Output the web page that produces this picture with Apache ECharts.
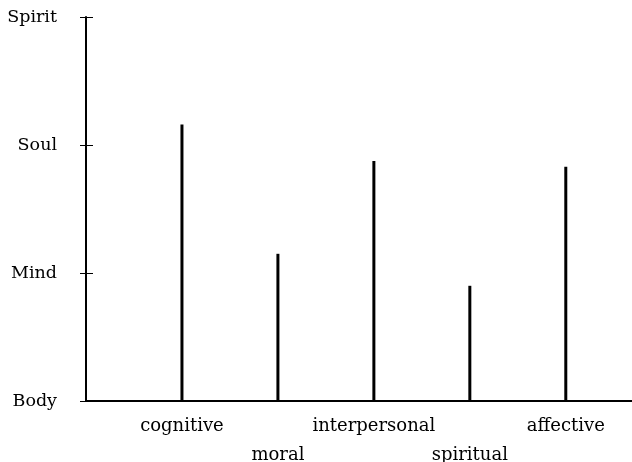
<!DOCTYPE html>
<html>
<head>
<meta charset="utf-8">
<script src="https://cdn.jsdelivr.net/npm/echarts@6/dist/echarts.min.js"></script>
<style>
  html, body { margin: 0; padding: 0; background: #fff; }
  #chart { width: 632px; height: 462px; }
</style>
</head>
<body>
<div id="chart"></div>
<script>
  // domains along the x axis, in order
  const categories = ['cognitive', 'moral', 'interpersonal', 'spiritual', 'affective']
  // level reached by each domain (0 = Body ... 3 = Spirit)
  const levels = [2.16, 1.15, 1.875, 0.9, 1.83]
  // y tick labels
  const levelLabels = ['Body', 'Mind', 'Soul', 'Spirit']

  const font = 'DejaVu Serif'
  const chart = echarts.init(document.getElementById('chart'))

  chart.setOption({
    animation: false,
    grid: {
      left: 86,
      right: 0,
      top: 17,
      bottom: 61,
      outerBoundsMode: 'none'
    },
    xAxis: {
      type: 'value',
      min: 0,
      max: 5.69,
      interval: 1,
      splitLine: {show: false},
      axisTick: {show: false},
      axisLine: {
        lineStyle: {color: '#000', width: 2}
      },
      axisLabel: {
        margin: 16,
        showMinLabel: false,
        showMaxLabel: false,
        formatter: function (v) {
          const i = Math.round(v) - 1
          if (i < 0 || i >= categories.length) return ''
          return i % 2 === 0 ? '{up|' + categories[i] + '}' : '{down|' + categories[i] + '}'
        },
        rich: {
          up: {fontFamily: font, fontSize: 18, color: '#000'},
          down: {fontFamily: font, fontSize: 18, color: '#000', padding: [29, 0, 0, 0]}
        }
      }
    },
    yAxis: [
      {
        type: 'value',
        min: 0,
        max: 3,
        interval: 1,
        splitLine: {show: false},
        axisLine: {
          show: true,
          lineStyle: {color: '#000', width: 2}
        },
        axisTick: {
          show: true,
          length: 6,
          lineStyle: {color: '#000', width: 1}
        },
        axisLabel: {
          margin: 29,
          color: '#000',
          fontFamily: font,
          fontSize: 17.5,
          formatter: function (v) {
            return levelLabels[v] || ''
          }
        }
      },
      {
        // second axis on the same spot just to draw the inner half of the ticks
        type: 'value',
        position: 'left',
        min: 0,
        max: 3,
        interval: 1,
        splitLine: {show: false},
        axisLine: {show: false},
        axisLabel: {show: false},
        axisTick: {
          show: true,
          inside: true,
          length: 7,
          lineStyle: {color: '#000', width: 1}
        }
      }
    ],
    series: [
      {
        type: 'bar',
        barWidth: 3,
        itemStyle: {color: '#000'},
        data: levels.map((v, i) => [i + 1, v])
      }
    ]
  })
</script>
</body>
</html>
